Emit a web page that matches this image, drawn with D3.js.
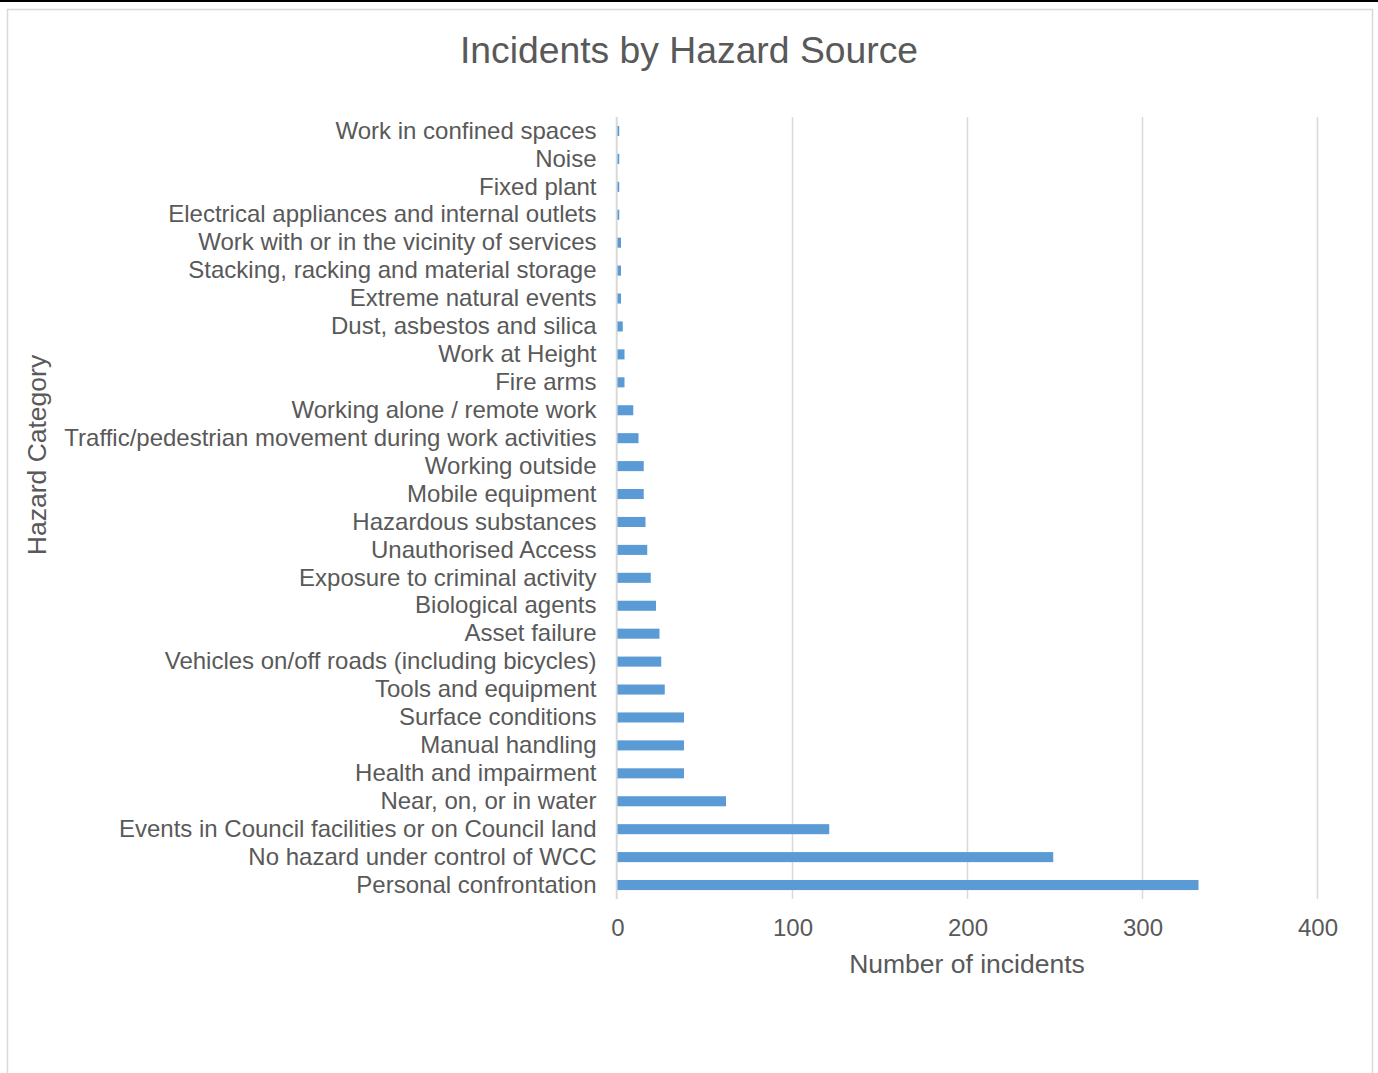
<!DOCTYPE html>
<html>
<head>
<meta charset="utf-8">
<script src="https://cdn.jsdelivr.net/npm/d3@7"></script>
<style>
  html, body { margin: 0; padding: 0; background: #fff; }
  svg { display: block; }
  text { font-family: "Liberation Sans", Arial, sans-serif; fill: #595959; }
</style>
</head>
<body>
<svg id="chart" width="1378" height="1073"></svg>
<script>
const categories = [
  "Work in confined spaces",
  "Noise",
  "Fixed plant",
  "Electrical appliances and internal outlets",
  "Work with or in the vicinity of services",
  "Stacking, racking and material storage",
  "Extreme natural events",
  "Dust, asbestos and silica",
  "Work at Height",
  "Fire arms",
  "Working alone / remote work",
  "Traffic/pedestrian movement during work activities",
  "Working outside",
  "Mobile equipment",
  "Hazardous substances",
  "Unauthorised Access",
  "Exposure to criminal activity",
  "Biological agents",
  "Asset failure",
  "Vehicles on/off roads (including bicycles)",
  "Tools and equipment",
  "Surface conditions",
  "Manual handling",
  "Health and impairment",
  "Near, on, or in water",
  "Events in Council facilities or on Council land",
  "No hazard under control of WCC",
  "Personal confrontation"
];
const incidents = [1, 1, 1, 1, 2, 2, 2, 3, 4, 4, 9, 12, 15, 15, 16, 17, 19, 22, 24, 25, 27, 38, 38, 38, 62, 121, 249, 332];
const xTicks = [0, 100, 200, 300, 400];
const chartTitle = "Incidents by Hazard Source";
const xAxisTitle = "Number of incidents";
const yAxisTitle = "Hazard Category";

const svg = d3.select("#chart");
const W = 1378, H = 1073;

// top black rule and chart frame
svg.append("rect").attr("x", 0).attr("y", 0).attr("width", W).attr("height", 2).attr("fill", "#000");
svg.append("rect").attr("x", 7.5).attr("y", 9.5).attr("width", 1365).attr("height", 1080)
  .attr("fill", "#fff").attr("stroke", "#d9d9d9").attr("stroke-width", 1.5);

const m = { left: 617.5, right: 1317.5, top: 117, bottom: 899 };

const x = d3.scaleLinear().domain([0, 400]).range([m.left, m.right]);
const y = d3.scaleBand().domain(categories).range([m.top, m.bottom]).paddingInner(0.64).paddingOuter(0.32);

// gridlines
svg.append("g").selectAll("line").data(xTicks.filter(t => t > 0)).join("line")
  .attr("x1", d => x(d)).attr("x2", d => x(d))
  .attr("y1", m.top).attr("y2", m.bottom)
  .attr("stroke", "#d9d9d9").attr("stroke-width", 1.5);

// y axis line (just left of the bars' base)
svg.append("line").attr("x1", x(0) - 0.8).attr("x2", x(0) - 0.8).attr("y1", m.top).attr("y2", m.bottom)
  .attr("stroke", "#d9d9d9").attr("stroke-width", 2);

// bars
svg.append("g").selectAll("rect").data(categories).join("rect")
  .attr("x", x(0))
  .attr("y", d => y(d))
  .attr("width", (d, i) => x(incidents[i]) - x(0))
  .attr("height", y.bandwidth())
  .attr("fill", "#5b9bd5");

// y axis labels
const yAxis = d3.axisLeft(y).tickSize(0).tickPadding(21);
const gy = svg.append("g").attr("transform", `translate(${x(0)},0)`).call(yAxis);
gy.select(".domain").remove();
gy.selectAll("text").style("font-size", "24px").style("font-family", "'Liberation Sans', Arial, sans-serif").attr("fill", "#595959");

// x axis labels
const xAxis = d3.axisBottom(x).tickValues(xTicks).tickSize(0).tickPadding(20);
const gx = svg.append("g").attr("transform", `translate(0,${m.bottom})`).call(xAxis);
gx.select(".domain").remove();
gx.selectAll("text").style("font-size", "24px").style("font-family", "'Liberation Sans', Arial, sans-serif").attr("fill", "#595959");

// titles
svg.append("text").attr("x", 689).attr("y", 63).attr("text-anchor", "middle")
  .style("font-size", "37.3px").text(chartTitle);
svg.append("text").attr("x", 967).attr("y", 973).attr("text-anchor", "middle")
  .style("font-size", "26.5px").text(xAxisTitle);
svg.append("text").attr("transform", `translate(46,455) rotate(-90)`)
  .attr("text-anchor", "middle").style("font-size", "26.5px").text(yAxisTitle);
</script>
</body>
</html>
